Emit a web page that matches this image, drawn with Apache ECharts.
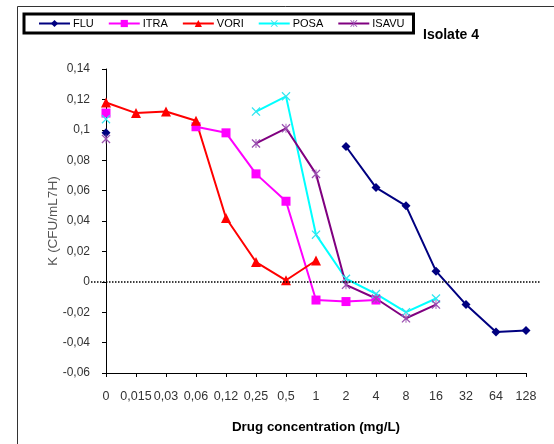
<!DOCTYPE html>
<html>
<head>
<meta charset="utf-8">
<script src="https://cdn.jsdelivr.net/npm/echarts@6/dist/echarts.min.js"></script>
<style>
  html, body { margin: 0; padding: 0; background: #fff; }
  #chart { width: 554px; height: 444px; }
</style>
</head>
<body>
<div id="chart"></div>
<script>
// x categories (drug concentration, mg/L)
const concentrations = ['0', '0,015', '0,03', '0,06', '0,12', '0,25', '0,5', '1', '2', '4', '8', '16', '32', '64', '128'];

// growth rate K per drug, null = not measured
const fluValues   = [0.098, null, null, null, null, null, null, null, 0.089, 0.062, 0.050, 0.007, -0.015, -0.033, -0.032];
const itraValues  = [0.111, null, null, 0.102, 0.098, 0.071, 0.053, -0.012, -0.013, -0.012, null, null, null, null, null];
const voriValues  = [0.118, 0.111, 0.112, 0.106, 0.042, 0.013, 0.001, 0.014, null, null, null, null, null, null, null];
const posaValues  = [0.107, null, null, null, null, 0.112, 0.122, 0.031, 0.002, -0.008, -0.020, -0.011, null, null, null];
const isavuValues = [0.094, null, null, null, null, 0.091, 0.101, 0.071, -0.002, -0.011, -0.024, -0.015, null, null, null];

const font = 'Liberation Sans, Arial, sans-serif';

const xSymbol = 'path://M0,1 L1,0 L5,4 L9,0 L10,1 L6,5 L10,9 L9,10 L5,6 L1,10 L0,9 L4,5 Z';
const starSymbol = 'path://M0,1 L1,0 L10,9 L9,10 Z M9,0 L10,1 L1,10 L0,9 Z M4.5,0 L5.5,0 L5.5,10 L4.5,10 Z';

function makeSeries(name, values, color, symbol, size, markerColor) {
    return {
        name: name,
        type: 'line',
        data: values,
        symbol: symbol,
        symbolSize: size,
        showAllSymbol: true,
        connectNulls: false,
        lineStyle: { color: color, width: 2 },
        itemStyle: { color: markerColor || color },
        emphasis: { disabled: true },
        z: 3
    };
}

const series = [
    makeSeries('FLU', fluValues, '#000080', 'diamond', 9),
    makeSeries('ITRA', itraValues, '#FF00FF', 'rect', 9),
    makeSeries('VORI', voriValues, '#FF0000', 'triangle', 10),
    makeSeries('POSA', posaValues, '#00FFFF', xSymbol, 9, '#33E6F0'),
    makeSeries('ISAVU', isavuValues, '#800080', starSymbol, 9, '#9A4FB0')
];

// dotted zero reference line
series[0].markLine = {
    silent: true,
    symbol: 'none',
    label: { show: false },
    lineStyle: { color: '#000', width: 1.5, type: [1.5, 1.5] },
    data: [[{ x: 91, yAxis: 0 }, { x: 541, yAxis: 0 }]]
};

const chart = echarts.init(document.getElementById('chart'));

chart.setOption({
    animation: false,
    backgroundColor: '#fff',
    title: {
        text: 'Isolate 4',
        left: 418,
        top: 23,
        textStyle: { fontFamily: font, fontSize: 14, fontWeight: 'bold', color: '#000' }
    },
    legend: {
        left: 24,
        top: 14,
        padding: [4, 9, 4, 14],
        itemWidth: 31,
        itemHeight: 9,
        itemGap: 14,
        borderColor: '#000',
        borderWidth: 3,
        backgroundColor: '#fff',
        textStyle: { fontFamily: font, fontSize: 11, color: '#000', padding: [0, 0, 0, -2] },
        data: ['FLU', 'ITRA', 'VORI', 'POSA', 'ISAVU']
    },
    grid: { left: 106, right: 28, top: 69, bottom: 71 },
    xAxis: {
        type: 'category',
        data: concentrations,
        boundaryGap: false,
        name: 'Drug concentration (mg/L)',
        nameLocation: 'middle',
        nameGap: 48,
        nameMoveOverlap: false,
        nameTextStyle: { fontFamily: font, fontSize: 13.4, fontWeight: 'bold', color: '#000' },
        axisLine: { onZero: false, lineStyle: { color: '#000', width: 1 } },
        axisTick: { show: true, inside: false, length: 4, alignWithLabel: true, lineStyle: { color: '#000' } },
        axisLabel: { interval: 0, margin: 17, hideOverlap: false, fontFamily: font, fontSize: 12.5, color: '#333' },
        splitLine: { show: false }
    },
    yAxis: {
        type: 'value',
        min: -0.06,
        max: 0.14,
        interval: 0.02,
        name: 'K (CFU/mL7H)',
        nameLocation: 'middle',
        nameGap: 46,
        nameMoveOverlap: false,
        nameRotate: 90,
        nameTextStyle: { fontFamily: font, fontSize: 13.5, color: '#555' },
        axisLine: { show: true, lineStyle: { color: '#000', width: 1 } },
        axisTick: { show: true, length: 4, lineStyle: { color: '#000' } },
        axisLabel: {
            margin: 16,
            fontFamily: font,
            fontSize: 12,
            color: '#333',
            formatter: function (v) {
                return String(Math.round(v * 100) / 100).replace('.', ',');
            }
        },
        splitLine: { show: false }
    },
    graphic: [
        { type: 'line', shape: { x1: 17.5, y1: 6.5, x2: 554, y2: 6.5 }, style: { stroke: '#333', lineWidth: 1 } },
        { type: 'line', shape: { x1: 17.5, y1: 6.5, x2: 17.5, y2: 444 }, style: { stroke: '#333', lineWidth: 1 } }
    ],
    series: series
});
</script>
</body>
</html>
